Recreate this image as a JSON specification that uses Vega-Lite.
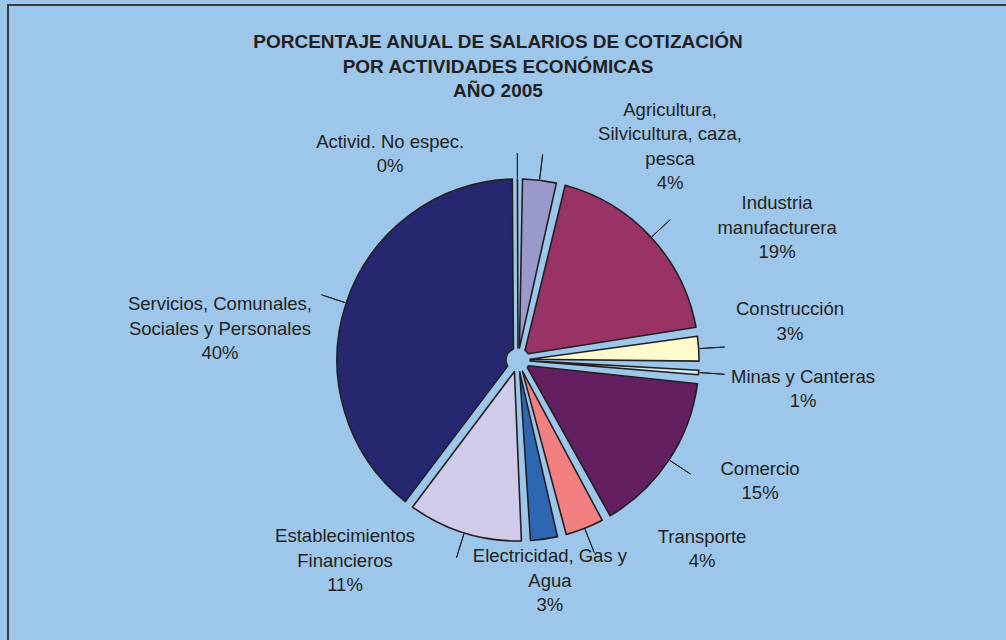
{
  "$schema": "https://vega.github.io/schema/vega-lite/v6.json",
  "width": 1020,
  "height": 710,
  "autosize": {"type": "none"},
  "padding": {"left": 8, "top": 5, "right": 0, "bottom": 0},
  "background": "#9DC7EA",
  "view": {"stroke": "#3a3a3a", "strokeWidth": 2, "fill": "#9DC7EA"},
  "config": {
    "view": {"stroke": "#3a3a3a", "strokeWidth": 2},
    "font": "Liberation Sans"
  },
  "title": {
    "text": ["PORCENTAJE ANUAL DE SALARIOS DE COTIZACIÓN", "POR ACTIVIDADES ECONÓMICAS", "AÑO 2005"],
    "font": "Liberation Sans",
    "fontSize": 19,
    "fontWeight": "bold",
    "color": "#231F20",
    "anchor": "middle",
    "frame": "group",
    "lineHeight": 24.5,
    "offset": -96,
    "dx": -20
  },
  "data": {
    "values": [
      {"orden": 1, "actividad": "Agricultura, Silvicultura, caza, pesca", "valor": 3.8, "etiqueta": "Agricultura,\nSilvicultura, caza,\npesca\n4%"},
      {"orden": 2, "actividad": "Industria manufacturera", "valor": 18.7, "etiqueta": "Industria\nmanufacturera\n19%"},
      {"orden": 3, "actividad": "Construcción", "valor": 3.0, "etiqueta": "Construcción\n3%"},
      {"orden": 4, "actividad": "Minas y Canteras", "valor": 1.2, "etiqueta": "Minas y Canteras\n1%"},
      {"orden": 5, "actividad": "Comercio", "valor": 15.2, "etiqueta": "Comercio\n15%"},
      {"orden": 6, "actividad": "Transporte", "valor": 4.2, "etiqueta": "Transporte\n4%"},
      {"orden": 7, "actividad": "Electricidad, Gas y Agua", "valor": 3.2, "etiqueta": "Electricidad, Gas y\nAgua\n3%"},
      {"orden": 8, "actividad": "Establecimientos Financieros", "valor": 11.0, "etiqueta": "Establecimientos\nFinancieros\n11%"},
      {"orden": 9, "actividad": "Servicios, Comunales, Sociales y Personales", "valor": 39.6, "etiqueta": "Servicios, Comunales,\nSociales y Personales\n40%"},
      {"orden": 10, "actividad": "Activid. No espec.", "valor": 0.1, "etiqueta": "Activid. No espec.\n0%"}
    ]
  },
  "encoding": {
    "theta": {"field": "valor", "type": "quantitative", "stack": true},
    "order": {"field": "orden", "type": "quantitative"}
  },
  "layer": [
    {
      "mark": {"type": "arc", "outerRadius": 181, "innerRadius": 12, "padAngle": 0.05, "stroke": "#231F20", "strokeWidth": 1.6, "strokeJoin": "round"},
      "encoding": {
        "color": {
          "field": "actividad",
          "type": "nominal",
          "legend": null,
          "scale": {
            "domain": ["Agricultura, Silvicultura, caza, pesca", "Industria manufacturera", "Construcción", "Minas y Canteras", "Comercio", "Transporte", "Electricidad, Gas y Agua", "Establecimientos Financieros", "Servicios, Comunales, Sociales y Personales", "Activid. No espec."],
            "range": ["#9999CC", "#993366", "#FFFACC", "#D2EEF5", "#631F60", "#F28080", "#2D67B2", "#CFCBE8", "#25286F", "#231F20"]
          }
        }
      }
    },
    {
      "mark": {"type": "arc", "outerRadius": 207, "innerRadius": 182, "padAngle": 3.3, "fillOpacity": 0, "stroke": "#231F20", "strokeWidth": 1},
      "encoding": {
        "strokeOpacity": {"condition": {"test": "datum.orden === 7", "value": 0}, "value": 1}
      }
    },
    {
      "mark": {"type": "text", "radius": 292.6, "thetaOffset": 0.427, "fontSize": 18.5, "lineBreak": "\n", "lineHeight": 24.5, "align": "center", "baseline": "middle", "color": "#231F20"},
      "encoding": {"text": {"condition": {"test": "datum.orden === 1", "field": "etiqueta"}, "value": ""}}
    },
    {
      "mark": {"type": "text", "radius": 302.9, "thetaOffset": 0.2, "fontSize": 18.5, "lineBreak": "\n", "lineHeight": 24.5, "align": "center", "baseline": "middle", "color": "#231F20"},
      "encoding": {"text": {"condition": {"test": "datum.orden === 2", "field": "etiqueta"}, "value": ""}}
    },
    {
      "mark": {"type": "text", "radius": 276.7, "thetaOffset": -0.122, "fontSize": 18.5, "lineBreak": "\n", "lineHeight": 24.5, "align": "center", "baseline": "middle", "color": "#231F20"},
      "encoding": {"text": {"condition": {"test": "datum.orden === 3", "field": "etiqueta"}, "value": ""}}
    },
    {
      "mark": {"type": "text", "radius": 285.5, "thetaOffset": -0.01, "fontSize": 18.5, "lineBreak": "\n", "lineHeight": 24.5, "align": "center", "baseline": "middle", "color": "#231F20"},
      "encoding": {"text": {"condition": {"test": "datum.orden === 4", "field": "etiqueta"}, "value": ""}}
    },
    {
      "mark": {"type": "text", "radius": 265.4, "thetaOffset": -0.162, "fontSize": 18.5, "lineBreak": "\n", "lineHeight": 24.5, "align": "center", "baseline": "middle", "color": "#231F20"},
      "encoding": {"text": {"condition": {"test": "datum.orden === 5", "field": "etiqueta"}, "value": ""}}
    },
    {
      "mark": {"type": "text", "radius": 255.3, "thetaOffset": -0.428, "fontSize": 18.5, "lineBreak": "\n", "lineHeight": 24.5, "align": "center", "baseline": "middle", "color": "#231F20"},
      "encoding": {"text": {"condition": {"test": "datum.orden === 6", "field": "etiqueta"}, "value": ""}}
    },
    {
      "mark": {"type": "text", "radius": 198.6, "thetaOffset": -0.017, "fontSize": 18.5, "lineBreak": "\n", "lineHeight": 24.5, "align": "center", "baseline": "middle", "color": "#231F20"},
      "encoding": {"text": {"condition": {"test": "datum.orden === 7", "field": "etiqueta"}, "value": ""}}
    },
    {
      "mark": {"type": "text", "radius": 246.8, "thetaOffset": 0.475, "fontSize": 18.5, "lineBreak": "\n", "lineHeight": 24.5, "align": "center", "baseline": "middle", "color": "#231F20"},
      "encoding": {"text": {"condition": {"test": "datum.orden === 8", "field": "etiqueta"}, "value": ""}}
    },
    {
      "mark": {"type": "text", "radius": 303.2, "thetaOffset": -0.136, "fontSize": 18.5, "lineBreak": "\n", "lineHeight": 24.5, "align": "center", "baseline": "middle", "color": "#231F20"},
      "encoding": {"text": {"condition": {"test": "datum.orden === 9", "field": "etiqueta"}, "value": ""}}
    },
    {
      "mark": {"type": "text", "radius": 252.8, "thetaOffset": -0.527, "fontSize": 18.5, "lineBreak": "\n", "lineHeight": 24.5, "align": "center", "baseline": "middle", "color": "#231F20"},
      "encoding": {"text": {"condition": {"test": "datum.orden === 10", "field": "etiqueta"}, "value": ""}}
    }
  ]
}
